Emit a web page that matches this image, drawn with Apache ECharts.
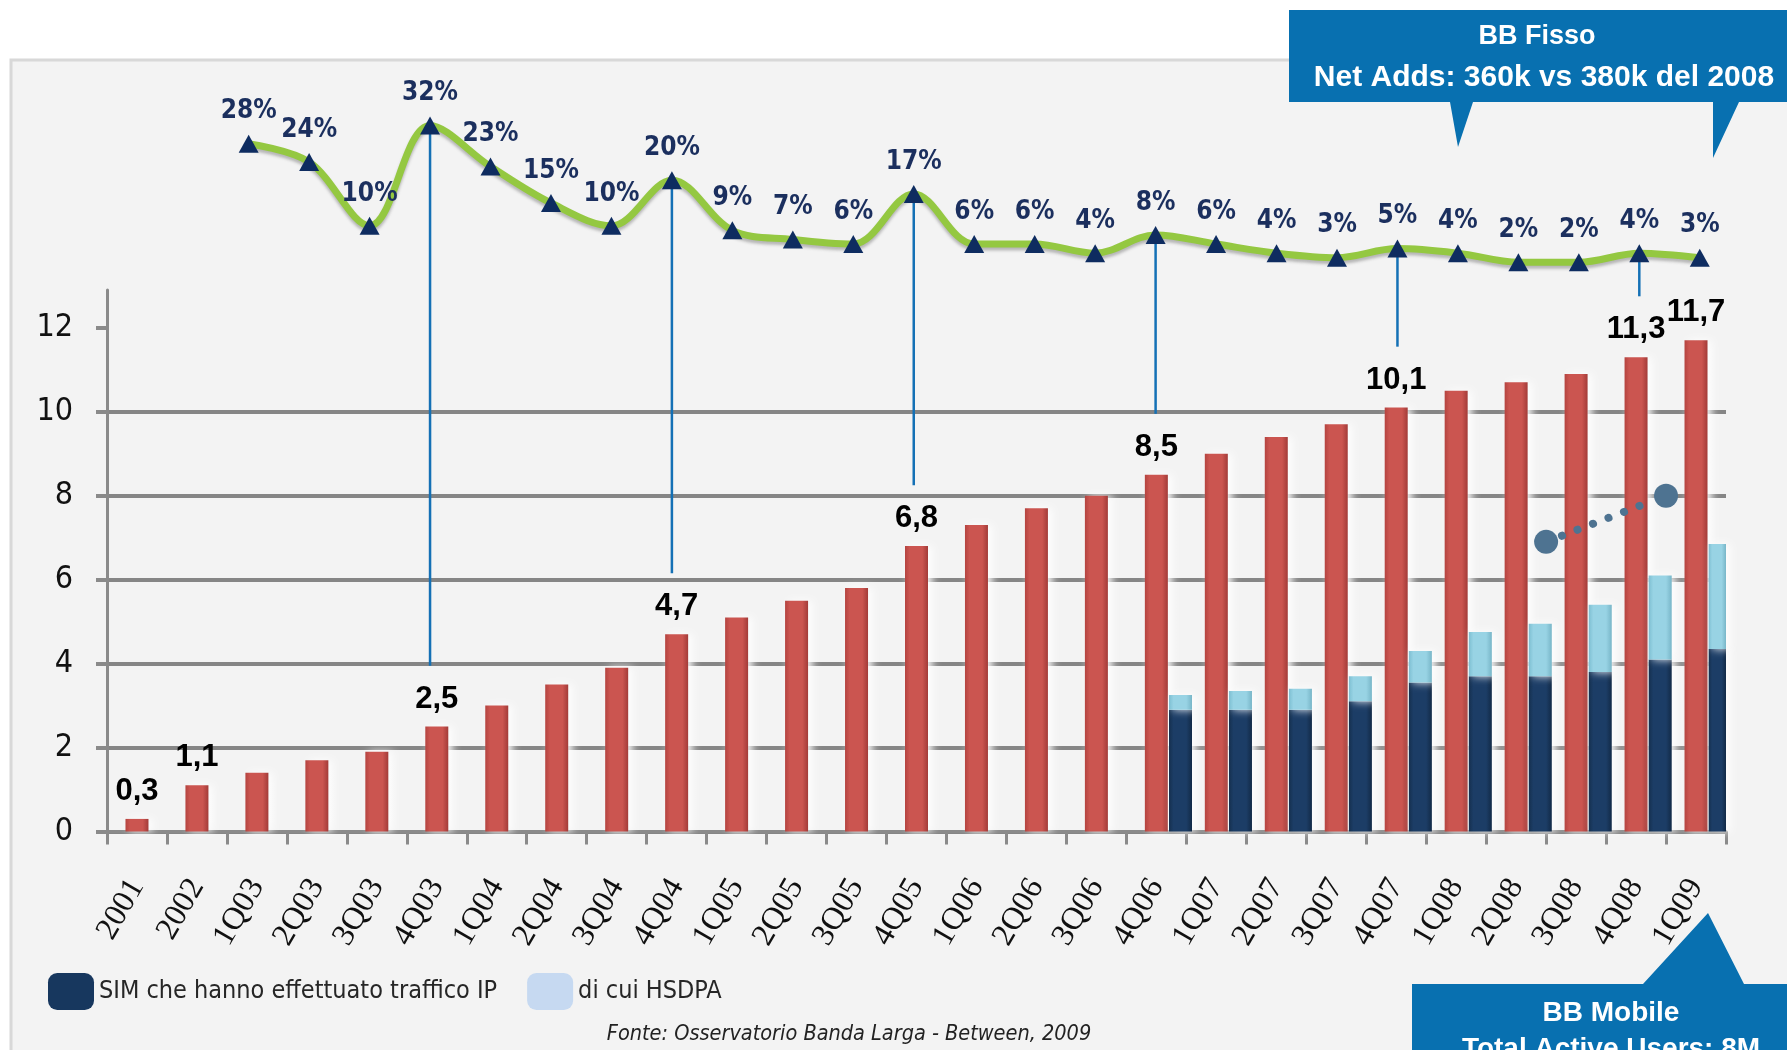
<!DOCTYPE html>
<html>
<head>
<meta charset="utf-8">
<script src="https://cdn.jsdelivr.net/npm/echarts@6/dist/echarts.min.js"></script>
<style>
  html, body { margin: 0; padding: 0; background: #fff; }
  #main { width: 1787px; height: 1050px; }
</style>
</head>
<body>
<div id="main"></div>
<script>
var categories = ['2001', '2002', '1Q03', '2Q03', '3Q03', '4Q03', '1Q04', '2Q04', '3Q04', '4Q04',
  '1Q05', '2Q05', '3Q05', '4Q05', '1Q06', '2Q06', '3Q06', '4Q06', '1Q07', '2Q07', '3Q07', '4Q07',
  '1Q08', '2Q08', '3Q08', '4Q08', '1Q09'];

// BB fisso, milioni di linee (barre rosse)
var fissoValues = [0.3, 1.1, 1.4, 1.7, 1.9, 2.5, 3.0, 3.5, 3.9, 4.7, 5.1, 5.5, 5.8, 6.8, 7.3, 7.7,
  8.0, 8.5, 9.0, 9.4, 9.7, 10.1, 10.5, 10.7, 10.9, 11.3, 11.7];

// BB mobile (barre blu scuro + quota HSDPA sopra)
var simValues = [null, null, null, null, null, null, null, null, null, null, null, null, null, null,
  null, null, null, 2.9, 2.9, 2.9, 3.1, 3.55, 3.7, 3.7, 3.8, 4.1, 4.35];
var hsdpaValues = [null, null, null, null, null, null, null, null, null, null, null, null, null, null,
  null, null, null, 0.35, 0.45, 0.5, 0.6, 0.75, 1.05, 1.25, 1.6, 2.0, 2.5];

// crescita % trimestrale (linea verde)
var growthValues = [null, null, 28, 24, 10, 32, 23, 15, 10, 20, 9, 7, 6, 17, 6, 6, 4, 8, 6, 4, 3, 5,
  4, 2, 2, 4, 3];

var yTicks = [0, 2, 4, 6, 8, 10, 12];
var labelledCats = ['2001', '2002', '4Q03', '4Q04', '4Q05', '4Q06', '4Q07', '4Q08', '1Q09'];
var linkedCats = ['4Q03', '4Q04', '4Q05', '4Q06', '4Q07', '4Q08'];

var NARROW = "'Liberation Sans Narrow', 'DejaVu Sans Condensed', 'Liberation Sans', sans-serif";
var SANS = "'Liberation Sans', Arial, sans-serif";

function hGrad(edge, mid, edge2) {
  return {
    type: 'linear', x: 0, y: 0, x2: 1, y2: 0,
    colorStops: [
      { offset: 0, color: edge },
      { offset: 0.2, color: mid },
      { offset: 0.75, color: mid },
      { offset: 1, color: edge2 }
    ]
  };
}

var barShadow = {
  shadowColor: 'rgba(255,255,255,0.95)',
  shadowBlur: 8,
  shadowOffsetX: 4
};

var chart = echarts.init(document.getElementById('main'));

var option = {
  animation: false,
  backgroundColor: '#ffffff',
  grid: [
    { left: 107, right: 61, top: 290, bottom: 218.5 },
    { left: 97.5, right: 57, top: 89, height: 182.4 }
  ],
  legend: {
    left: 43,
    top: 968,
    itemWidth: 46,
    itemHeight: 37,
    itemGap: 30,
    icon: 'roundRect',
    textStyle: { fontFamily: NARROW, fontSize: 25, color: '#262626' },
    data: [
      { name: 'SIM che hanno effettuato traffico IP', itemStyle: { color: '#17375E' } },
      { name: 'di cui HSDPA', itemStyle: { color: '#C6D9F1' } }
    ]
  },
  xAxis: [
    {
      type: 'category',
      gridIndex: 0,
      data: categories,
      axisLine: { lineStyle: { color: '#8a8a8a', width: 3 } },
      axisTick: { show: true, length: 13, lineStyle: { color: '#8a8a8a', width: 3 } },
      axisLabel: {
        rotate: 60,
        margin: 50,
        interval: 0,
        fontFamily: "'Liberation Serif', serif",
        fontSize: 32,
        color: '#111'
      }
    },
    { type: 'category', gridIndex: 0, data: categories, show: false, position: 'top' },
    { type: 'category', gridIndex: 1, data: categories, show: false }
  ],
  yAxis: [
    {
      type: 'value',
      gridIndex: 0,
      min: 0,
      max: 12.9,
      interval: 2,
      axisLine: { show: true, lineStyle: { color: '#8a8a8a', width: 3 } },
      axisTick: { show: true, length: 11, customValues: yTicks, lineStyle: { color: '#8a8a8a', width: 4 } },
      axisLabel: {
        customValues: yTicks,
        margin: 34,
        fontFamily: NARROW,
        fontSize: 32,
        color: '#111'
      },
      splitLine: { show: true, showMaxLine: false, lineStyle: { color: '#858585', width: 4 } }
    },
    { type: 'value', gridIndex: 1, min: 0, max: 40, show: false, splitLine: { show: false } }
  ],
  series: [
    {
      name: 'BB Fisso',
      type: 'bar',
      xAxisIndex: 0,
      yAxisIndex: 0,
      barWidth: 23,
      data: fissoValues,
      itemStyle: Object.assign({ color: hGrad('#B4433F', '#CB5550', '#A33B38') }, barShadow),
      label: {
        show: true,
        position: 'top',
        distance: 12,
        fontFamily: SANS,
        fontWeight: 'bold',
        fontSize: 31,
        color: '#000',
        formatter: function (p) {
          if (labelledCats.indexOf(p.name) < 0) return '';
          return p.value.toFixed(1).replace('.', ',');
        }
      },
      z: 3
    },
    {
      name: 'spacer',
      type: 'bar',
      xAxisIndex: 1,
      yAxisIndex: 0,
      stack: 'spacer',
      barWidth: 23,
      barGap: '110%',
      data: []
    },
    {
      name: 'SIM che hanno effettuato traffico IP',
      type: 'bar',
      xAxisIndex: 1,
      yAxisIndex: 0,
      stack: 'mobile',
      barWidth: 23,
      barGap: '110%',
      data: simValues,
      itemStyle: Object.assign({ color: hGrad('#15304F', '#1C3D66', '#122A47') }, barShadow),
      z: 3
    },
    {
      name: 'di cui HSDPA',
      type: 'bar',
      xAxisIndex: 1,
      yAxisIndex: 0,
      stack: 'mobile',
      barWidth: 23,
      barGap: '110%',
      data: hsdpaValues,
      itemStyle: Object.assign({ color: hGrad('#7DBFD2', '#98D3E4', '#78B6C8') }, barShadow),
      z: 3
    },
    {
      name: 'Crescita',
      type: 'line',
      xAxisIndex: 2,
      yAxisIndex: 1,
      data: growthValues,
      smooth: 0.35,
      symbol: 'triangle',
      symbolSize: [20, 18],
      lineStyle: {
        color: '#94C841',
        width: 7,
        shadowColor: 'rgba(70,70,70,0.35)',
        shadowBlur: 3,
        shadowOffsetY: 3
      },
      itemStyle: { color: '#0E2C60' },
      label: {
        show: true,
        position: 'top',
        distance: 10,
        fontFamily: NARROW,
        fontWeight: 'bold',
        fontSize: 26,
        color: '#1B2F5E',
        formatter: function (p) { return p.value + '%'; }
      },
      z: 5
    }
  ]
};

chart.setOption(option);

// annotazioni: pannello, connettori, puntini, box
var graphics = [];

graphics.push({
  type: 'rect', z: -10, silent: true,
  shape: { x: 11, y: 60, width: 1800, height: 1010 },
  style: { fill: '#F3F3F3', stroke: '#D8D8D8', lineWidth: 3 }
});

linkedCats.forEach(function (c) {
  var i = categories.indexOf(c);
  var top = chart.convertToPixel({ xAxisIndex: 2, yAxisIndex: 1 }, [i, growthValues[i]]);
  var bottom = chart.convertToPixel({ xAxisIndex: 0, yAxisIndex: 0 }, [i, fissoValues[i] + 1.45]);
  graphics.push({
    type: 'line', z: 1, silent: true,
    shape: { x1: top[0], y1: top[1], x2: top[0], y2: bottom[1] },
    style: { stroke: '#1470B5', lineWidth: 2.5 }
  });
});

function between(a, b, v) {
  var pa = chart.convertToPixel({ xAxisIndex: 0, yAxisIndex: 0 }, [categories.indexOf(a), v]);
  var pb = chart.convertToPixel({ xAxisIndex: 0, yAxisIndex: 0 }, [categories.indexOf(b), v]);
  return [(pa[0] + pb[0]) / 2, pa[1]];
}
var d1 = between('2Q08', '3Q08', 6.9);
var d2 = between('4Q08', '1Q09', 8.0);
var dx = d2[0] - d1[0], dy = d2[1] - d1[1], len = Math.sqrt(dx * dx + dy * dy);
var ux = dx / len, uy = dy / len;
graphics.push({
  type: 'line', z: 10, silent: true,
  shape: { x1: d1[0] + ux * 17, y1: d1[1] + uy * 17, x2: d2[0] - ux * 15, y2: d2[1] - uy * 15 },
  style: { stroke: '#4E7391', lineWidth: 8, lineCap: 'round', lineDash: [0.1, 16.5] }
});
graphics.push({ type: 'circle', z: 10, silent: true, shape: { cx: d1[0], cy: d1[1], r: 12 }, style: { fill: '#4E7391' } });
graphics.push({ type: 'circle', z: 10, silent: true, shape: { cx: d2[0], cy: d2[1], r: 12 }, style: { fill: '#4E7391' } });

// box BB Fisso
graphics.push({
  type: 'polygon', z: 20, silent: true,
  shape: { points: [[1289, 10], [1790, 10], [1790, 102], [1739, 102], [1713, 158], [1713, 102],
    [1473, 102], [1458, 147], [1450, 102], [1289, 102]] },
  style: { fill: '#0870B0' }
});
graphics.push({
  type: 'text', z: 21, silent: true, x: 1537, y: 37,
  style: { text: 'BB Fisso', fill: '#fff', font: 'bold 27px ' + SANS, textAlign: 'center', textVerticalAlign: 'middle' }
});
graphics.push({
  type: 'text', z: 21, silent: true, x: 1544, y: 78,
  style: { text: 'Net Adds: 360k vs 380k del 2008', fill: '#fff', font: 'bold 30px ' + SANS, textAlign: 'center', textVerticalAlign: 'middle' }
});

// box BB Mobile
graphics.push({
  type: 'polygon', z: 20, silent: true,
  shape: { points: [[1412, 984], [1643, 984], [1708, 913], [1744, 984], [1790, 984], [1790, 1060], [1412, 1060]] },
  style: { fill: '#0870B0' }
});
graphics.push({
  type: 'text', z: 21, silent: true, x: 1611, y: 1013,
  style: { text: 'BB Mobile', fill: '#fff', font: 'bold 28px ' + SANS, textAlign: 'center', textVerticalAlign: 'middle' }
});
graphics.push({
  type: 'text', z: 21, silent: true, x: 1611, y: 1049,
  style: { text: 'Total Active Users: 8M', fill: '#fff', font: 'bold 28px ' + SANS, textAlign: 'center', textVerticalAlign: 'middle' }
});

// fonte
graphics.push({
  type: 'text', z: 21, silent: true, x: 849, y: 1034,
  style: { text: 'Fonte: Osservatorio Banda Larga - Between, 2009', fill: '#222', font: 'italic 21.5px ' + NARROW, textAlign: 'center', textVerticalAlign: 'middle' }
});

chart.setOption({ graphic: graphics });
</script>
</body>
</html>
